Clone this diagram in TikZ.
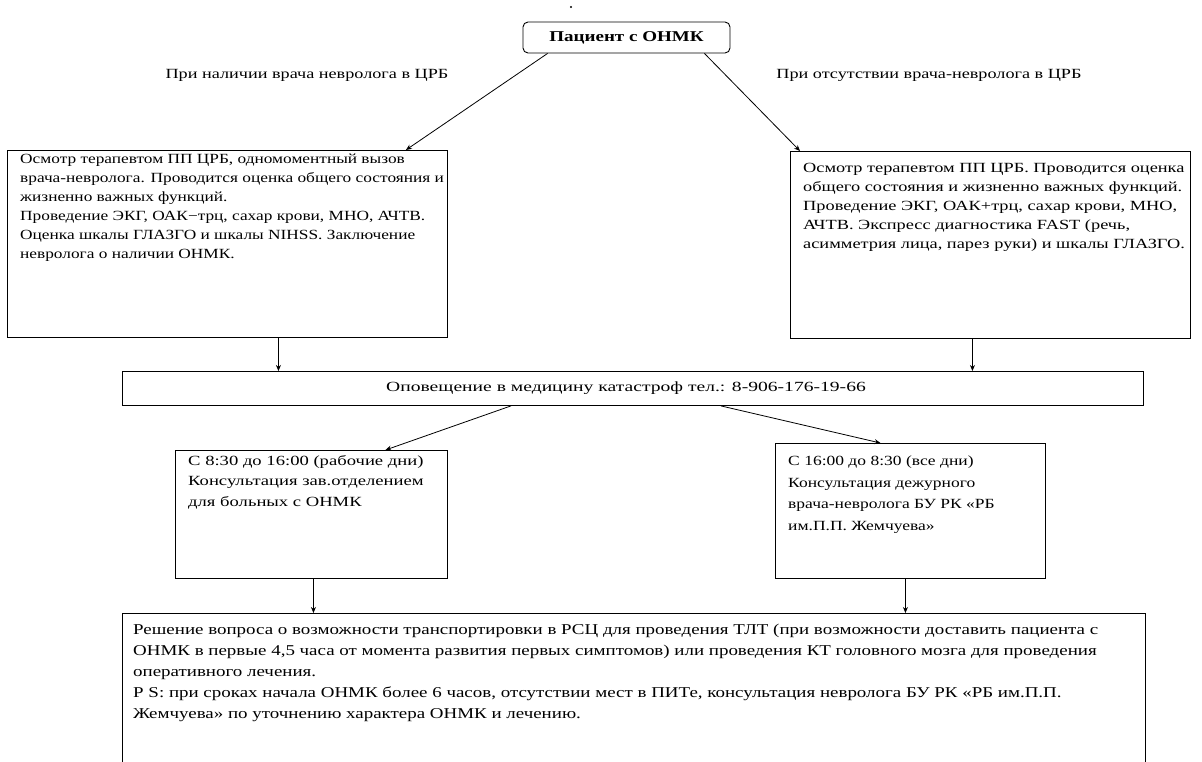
\documentclass[tikz,border=0pt]{standalone}
\usepackage{fontspec}
\setmainfont{Liberation Serif}
\usetikzlibrary{arrows.meta,calc}
\newcommand{\wide}[1]{\addfontfeatures{FakeStretch=#1}}
\tikzset{
  frame/.style={draw=black, line width=0.9pt, inner sep=0pt, anchor=north west},
  txt/.style={inner sep=0pt, anchor=north west, align=left},
  arr/.style={draw=black, line width=0.8pt, -{Stealth[length=6pt,width=5pt]}},
}
\begin{document}
\begin{tikzpicture}[x=1pt,y=-1pt]
\useasboundingbox (0,0) rectangle (1202,761);
\fill[white] (0,0) rectangle (1202,761);

% small stray mark above the title box
\fill[black] (571,7) circle (1.2pt);

% title box
\node[draw=black, line width=0.9pt, rounded corners=5pt, minimum width=207pt, minimum height=31pt,
      font=\fontsize{15}{18}\selectfont\bfseries\wide{1.27}] (P) at (626.5,37.5) {Пациент с ОНМК};

% branch captions
\node[font=\fontsize{14}{17}\selectfont\wide{1.30}] (capL) at (307,75) {При наличии врача невролога в ЦРБ};
\node[font=\fontsize{14}{17}\selectfont\wide{1.30}] (capR) at (929,75) {При отсутствии врача-невролога в ЦРБ};

% first-level boxes
\node[frame, minimum width=440pt, minimum height=187pt] (L) at (7,150) {};
\node[txt, font=\fontsize{14}{19}\selectfont\wide{1.237}] (Lt) at (20,153.5) {Осмотр терапевтом ПП ЦРБ, одномоментный вызов\\
врача-невролога. Проводится оценка общего состояния и\\
жизненно важных функций.\\
Проведение ЭКГ, ОАК−трц, сахар крови, МНО, АЧТВ.\\
Оценка шкалы ГЛАЗГО и шкалы NIHSS. Заключение\\
невролога о наличии ОНМК.};

\node[frame, minimum width=400pt, minimum height=187pt] (R) at (790,151) {};
\node[txt, font=\fontsize{14}{19}\selectfont\wide{1.31}] (Rt) at (803,163) {Осмотр терапевтом ПП ЦРБ. Проводится оценка\\
общего состояния и жизненно важных функций.\\
Проведение ЭКГ, ОАК+трц, сахар крови, МНО,\\
АЧТВ. Экспресс диагностика FAST (речь,\\
асимметрия лица, парез руки) и шкалы ГЛАЗГО.};

% notification bar
\node[frame, minimum width=1021pt, minimum height=34pt] (N) at (122,371) {};
\node[font=\fontsize{14}{17}\selectfont\wide{1.40}] (Nt) at (626,388) {Оповещение в медицину катастроф тел.: 8-906-176-19-66};

% consultation boxes
\node[frame, minimum width=272pt, minimum height=128pt] (A) at (175,450) {};
\node[txt, font=\fontsize{14}{20.5}\selectfont\wide{1.33}] (At) at (188,455) {С 8:30 до 16:00 (рабочие дни)\\
Консультация зав.отделением\\
для больных с ОНМК};

\node[frame, minimum width=270pt, minimum height=135pt] (B) at (775,443) {};
\node[txt, font=\fontsize{14}{21.5}\selectfont\wide{1.25}] (Bt) at (788,456) {С 16:00 до 8:30 (все дни)\\
Консультация дежурного\\
врача-невролога БУ РК «РБ\\
им.П.П. Жемчуева»};

% final decision box (runs past the lower edge)
\node[frame, minimum width=1023pt, minimum height=160pt] (F) at (122,613) {};
\node[txt, font=\fontsize{15}{21}\selectfont\wide{1.263}] (Ft) at (133,624) {Решение вопроса о возможности транспортировки в РСЦ для проведения ТЛТ (при возможности доставить пациента с\\
ОНМК в первые 4,5 часа от момента развития первых симптомов) или проведения КТ головного мозга для проведения\\
оперативного лечения.\\
P S: при сроках начала ОНМК более 6 часов, отсутствии мест в ПИТе, консультация невролога БУ РК «РБ им.П.П.\\
Жемчуева» по уточнению характера ОНМК и лечению.};

% connectors
\draw[arr] ([xshift=25pt]P.south west) -- ([xshift=-42pt]L.north east);
\draw[arr] ([xshift=-26pt]P.south east) -- ([xshift=10pt]R.north west);
\draw[arr] ([xshift=51pt]L.south) -- ([xshift=51pt]L.south |- N.north);
\draw[arr] ([xshift=-18pt]R.south) -- ([xshift=-18pt]R.south |- N.north);
\draw[arr] ([xshift=-122pt]N.south) -- ([xshift=74pt]A.north);
\draw[arr] ([xshift=88pt]N.south) -- ([xshift=-30pt]B.north);
\draw[arr] ([xshift=2pt]A.south) -- ([xshift=2pt]A.south |- F.north);
\draw[arr] ([xshift=-5pt]B.south) -- ([xshift=-5pt]B.south |- F.north);
\end{tikzpicture}
\end{document}
